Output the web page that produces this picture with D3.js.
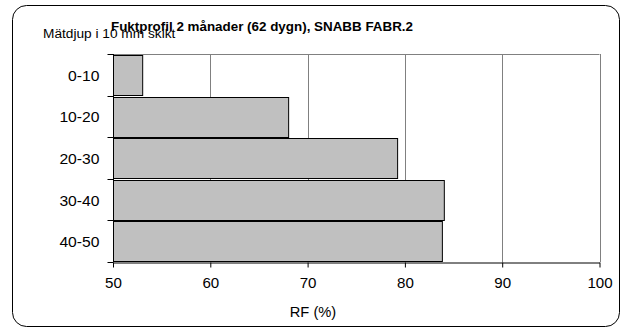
<!DOCTYPE html>
<html>
<head>
<meta charset="utf-8">
<script src="https://cdn.jsdelivr.net/npm/d3@7"></script>
<style>
  body { margin: 0; background: #fff; }
  svg { font-family: "Liberation Sans", Arial, sans-serif; }
</style>
</head>
<body>
<div id="chart"></div>
<script>
const categories = ['0-10', '10-20', '20-30', '30-40', '40-50'];
const values = [53.0, 68.0, 79.2, 84.0, 83.8];
const xTicks = [50, 60, 70, 80, 90, 100];

const width = 625;
const height = 331;
const margin = {top: 54, left: 113, bottom: 69, right: 25};

const x = d3.scaleLinear()
  .domain([50, 100])
  .range([margin.left, width - margin.right - 0.5]);

const y = d3.scaleBand()
  .domain(categories)
  .range([margin.top, height - margin.bottom])
  .paddingInner(0.05)
  .paddingOuter(0.025);

const svg = d3.select('#chart').append('svg')
  .attr('width', width)
  .attr('height', height);

// outer frame
svg.append('rect')
  .attr('x', 12.5).attr('y', 5.5)
  .attr('width', 607).attr('height', 321)
  .attr('rx', 14).attr('ry', 14)
  .attr('fill', 'none')
  .attr('stroke', '#000')
  .attr('stroke-width', 1);

// gridlines
svg.append('g')
  .selectAll('line').data(xTicks.slice(1)).enter().append('line')
  .attr('x1', d => Math.round(x(d)) + 0.5)
  .attr('x2', d => Math.round(x(d)) + 0.5)
  .attr('y1', margin.top)
  .attr('y2', height - margin.bottom)
  .attr('stroke', '#808080');

svg.append('line')
  .attr('x1', x(50)).attr('x2', x(100))
  .attr('y1', margin.top + 0.5).attr('y2', margin.top + 0.5)
  .attr('stroke', '#808080');

// bars
svg.append('g')
  .selectAll('rect').data(values).enter().append('rect')
  .attr('x', x(50) + 0.5)
  .attr('y', (d, i) => Math.round(y(categories[i])) + 0.5)
  .attr('width', d => x(d) - x(50))
  .attr('height', Math.round(y.bandwidth()))
  .attr('fill', '#c0c0c0')
  .attr('stroke', '#000')
  .attr('stroke-width', 1);

// x axis
const xAxis = svg.append('g')
  .attr('transform', `translate(0, ${height - margin.bottom + 0.5})`)
  .call(d3.axisBottom(x).tickValues(xTicks).tickSize(5).tickSizeOuter(0).tickPadding(11));
xAxis.select('.domain').attr('stroke', '#000');
xAxis.selectAll('text').attr('font-size', 14).attr('fill', '#000')
  .attr('transform', 'scale(1.08,1)')
  .attr('font-family', '"Liberation Sans", Arial, sans-serif');

// y axis with ticks on band boundaries
const yAxisG = svg.append('g')
  .attr('transform', `translate(${margin.left + 0.5}, 0)`);
yAxisG.append('line')
  .attr('y1', margin.top).attr('y2', height - margin.bottom)
  .attr('stroke', '#000');
const edges = d3.range(categories.length + 1).map(i => margin.top + i * (height - margin.bottom - margin.top) / categories.length);
yAxisG.selectAll('.tick').data(edges).enter().append('line')
  .attr('x1', -6).attr('x2', 0)
  .attr('y1', d => Math.round(d) + 0.5).attr('y2', d => Math.round(d) + 0.5)
  .attr('stroke', '#000');
yAxisG.selectAll('text').data(categories).enter().append('text')
  .attr('transform', d => `translate(-14, ${y(d) + y.bandwidth() / 2 + 1}) scale(1.12,1)`)
  .attr('dy', '0.35em')
  .attr('text-anchor', 'end')
  .attr('font-size', 14)
  .text(d => d);

// labels
svg.append('text')
  .attr('x', 43).attr('y', 38)
  .attr('font-size', 13.7)
  .text('Mätdjup i 10 mm skikt');

svg.append('text')
  .attr('x', 262).attr('y', 31)
  .attr('text-anchor', 'middle')
  .attr('font-size', 13.4)
  .attr('font-weight', 'bold')
  .text('Fuktprofil 2 månader (62 dygn), SNABB FABR.2');

svg.append('text')
  .attr('transform', 'translate(313, 317) scale(1.05,1)')
  .attr('text-anchor', 'middle')
  .attr('font-size', 14)
  .text('RF (%)');
</script>
</body>
</html>
